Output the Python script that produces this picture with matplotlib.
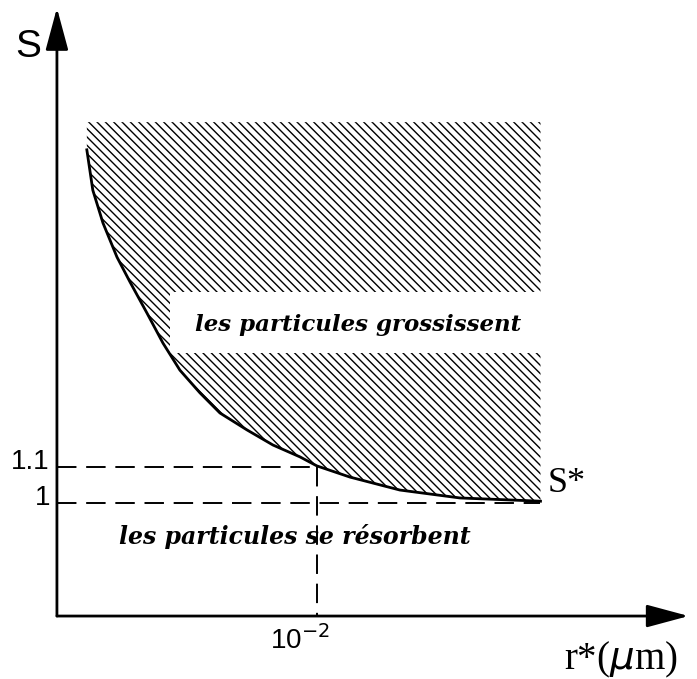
import matplotlib
matplotlib.use("Agg")
import matplotlib.pyplot as plt
from matplotlib.patches import FancyArrowPatch, Rectangle

# critical radius r* (um) and critical saturation ratio S* along the curve
r_star = [0.00115, 0.00138, 0.00177, 0.00231, 0.00281, 0.00346, 0.00408,
          0.00473, 0.00550, 0.00627, 0.00731, 0.00831, 0.00935, 0.01000,
          0.01127, 0.01319, 0.0155, 0.0186]
s_star = [1.981, 1.869, 1.778, 1.683, 1.614, 1.528, 1.444,
          1.369, 1.306, 1.250, 1.203, 1.161, 1.128, 1.103,
          1.072, 1.036, 1.014, 1.005]
s_top = 2.058          # upper edge of hatched zone
r_ref = 0.01           # 10^-2 um
s_ref = [1.0, 1.1]
s_ref_labels = ["1", "1.1"]

plt.rcParams["hatch.linewidth"] = 1.0

fig = plt.figure(figsize=(6.97, 6.79), dpi=100)
ax = fig.add_axes([0, 0, 1, 1])
ax.set_xlim(-0.00219, 0.02462)
ax.set_ylim(0.5111, 2.3972)
ax.axis("off")

x0, y0 = 0.0, 0.686    # axis origin

# hatched region above the curve
ax.fill_between(r_star, s_star, s_top, facecolor="white", edgecolor="black",
                hatch="\\\\\\\\", linewidth=0, zorder=1)
ax.plot(r_star, s_star, color="black", lw=2, zorder=3)

# white label box over hatch
ax.add_patch(Rectangle((0.00435, 1.417), 0.0188 - 0.00435, 1.586 - 1.417,
                       facecolor="white", edgecolor="none", zorder=2))
ax.text(0.01158, 1.494, "les particules grossissent", ha="center", va="center",
        family="DejaVu Serif", style="italic", weight="bold", fontsize=16.5, zorder=4)

# dashed reference lines
ax.plot([x0, r_ref], [s_ref[1], s_ref[1]], color="black", lw=1.4,
        dashes=(10, 5), zorder=3)
ax.plot([x0, r_star[-1]], [s_ref[0], s_ref[0]], color="black", lw=1.4,
        dashes=(10, 5), zorder=3)
ax.plot([r_ref, r_ref], [s_ref[1], y0], color="black", lw=1.4,
        dashes=(10, 5), zorder=3)

ax.text(0.00915, 0.906, "les particules se résorbent", ha="center", va="center",
        family="DejaVu Serif", style="italic", weight="bold", fontsize=17)

# axes with arrows
ax.add_patch(FancyArrowPatch((x0, y0), (x0, 2.375), arrowstyle="-|>,head_length=1.3,head_width=0.35",
                             mutation_scale=20, color="black", lw=2, shrinkA=0, shrinkB=0))
ax.add_patch(FancyArrowPatch((x0, y0), (0.0243, y0), arrowstyle="-|>,head_length=1.3,head_width=0.35",
                             mutation_scale=20, color="black", lw=2, shrinkA=0, shrinkB=0))

# labels
ax.text(-0.00112, 2.267, "S", ha="center", va="center", family="Liberation Sans", fontsize=28)
for s, lab in zip(s_ref, s_ref_labels):
    ax.text(-0.00027, s + 0.014, lab, ha="right", va="center",
            family="Liberation Sans", fontsize=20)
ax.text(0.00935, 0.619, r"10$^{-2}$", ha="center", va="center",
        family="Liberation Sans", fontsize=20)
ax.text(0.01888, 1.053, "S*", ha="left", va="center", family="Liberation Serif", fontsize=26)
ax.text(0.02170, 0.564, "r*($\\mu$m)", ha="center", va="center",
        family="Liberation Serif", fontsize=28)

fig.savefig("out.png", dpi=100)
